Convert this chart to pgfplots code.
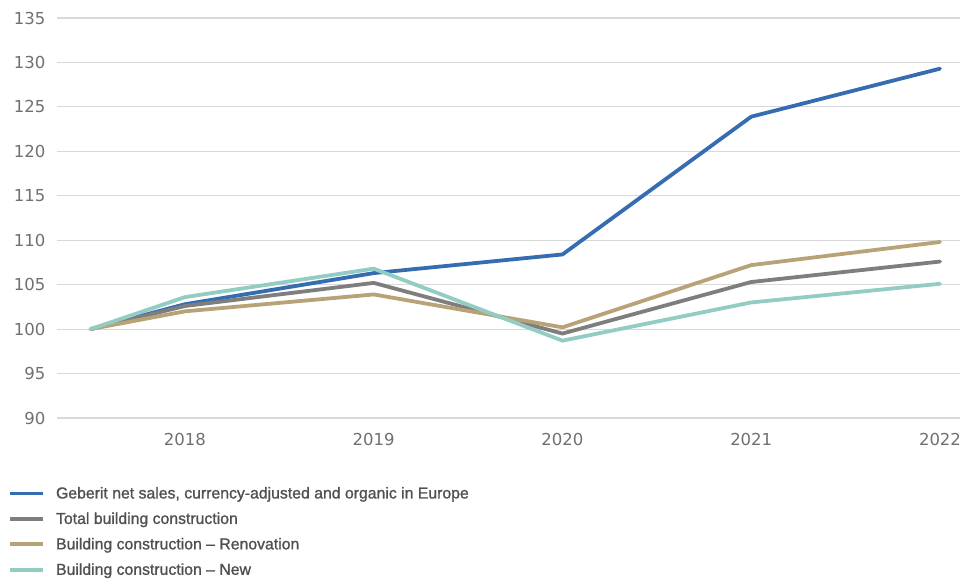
\documentclass[border=0pt]{standalone}
\usepackage{fontspec}
\setmainfont{Liberation Sans}
\newfontfamily\tickfont{DejaVu Sans}
\usepackage{pgfplots}
\pgfplotsset{compat=1.18}
\definecolor{cblue}{HTML}{366CB0}
\definecolor{cgray}{HTML}{7E7E7E}
\definecolor{ctan}{HTML}{B7A377}
\definecolor{cteal}{HTML}{93CCC3}
\definecolor{cgrid}{HTML}{D9D9D9}
\definecolor{ctick}{HTML}{707070}
\definecolor{ctext}{HTML}{505050}
\begin{document}
\begin{tikzpicture}[x=1pt,y=1pt]
\path[use as bounding box] (0,0) rectangle (960,579);
\begin{axis}[
  at={(57pt,161pt)}, anchor=south west,
  scale only axis, width=903pt, height=400pt,
  xmin=2017.322, xmax=2022.106,
  ymin=90, ymax=135,
  axis line style={draw=none},
  xtick={2018,2019,2020,2021,2022},
  ytick={90,95,...,135},
  xticklabel style={/pgf/number format/1000 sep=},
  tick style={draw=none},
  ymajorgrids, grid style={cgrid, line width=1.1pt},
  /pgf/number format/assume math mode=true,
  ticklabel style={font=\tickfont\fontsize{16.5}{18}\selectfont, text=ctick},
  xticklabel style={yshift=-12pt},
  yticklabel style={xshift=-8pt},
  legend cell align=left,
  legend style={at={(-0.0542,-0.167)}, anchor=north west, draw=none, fill=none,
    inner sep=0pt, font=\fontsize{15.8}{17}\selectfont\addfontfeature{FakeBold=1.2}\color{ctext}, row sep=8.5pt},
  legend image code/.code={\draw[#1, line cap=butt] (0pt,0pt) -- (33pt,0pt); \path (42pt,0pt);},
  every axis plot/.append style={line width=3.8pt, line join=round, line cap=round},
  clip=false,
]
\addplot[cblue] coordinates {(2017.5,100) (2018,102.8) (2019,106.3) (2020,108.4) (2021,123.9) (2022,129.3)};
\addlegendentry{Geberit net sales, currency-adjusted and organic in Europe}
\addplot[cgray] coordinates {(2017.5,100) (2018,102.6) (2019,105.2) (2020,99.5) (2021,105.3) (2022,107.6)};
\addlegendentry{Total building construction}
\addplot[ctan] coordinates {(2017.5,100) (2018,102.0) (2019,103.9) (2020,100.2) (2021,107.2) (2022,109.8)};
\addlegendentry{Building construction -- Renovation}
\addplot[cteal] coordinates {(2017.5,100) (2018,103.6) (2019,106.8) (2020,98.7) (2021,103.0) (2022,105.1)};
\addlegendentry{Building construction -- New}
\end{axis}
\end{tikzpicture}
\end{document}
